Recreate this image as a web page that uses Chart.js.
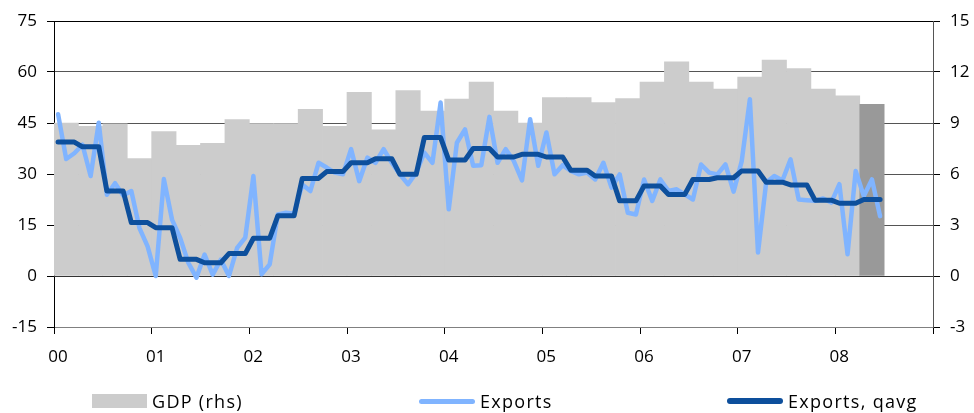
<!DOCTYPE html>
<html>
<head>
<meta charset="utf-8">
<script src="https://cdn.jsdelivr.net/npm/chart.js@4.4.1/dist/chart.umd.min.js"></script>
<style>
html,body{margin:0;padding:0;background:#fff;}
#wrap{position:relative;width:974px;height:413px;font-family:"Open Sans",sans-serif;}
#c{position:absolute;left:0;top:0;}
.lg{position:absolute;top:391px;height:20px;display:flex;align-items:center;font-size:18px;letter-spacing:1.3px;color:#000;white-space:nowrap;}
.sw{display:inline-block;margin-right:5px;}
</style>
</head>
<body>
<div id="wrap">
<canvas id="c" width="974" height="413"></canvas>
<div id="legend"></div>
</div>
<script>
// ---- data ----
const yearLabels = ['00','01','02','03','04','05','06','07','08'];
const seriesNames = ['GDP (rhs)','Exports','Exports, qavg'];
// quarterly GDP growth (rhs), Q1 2000 .. Q2 2008 (last quarter preliminary)
const gdpQuarterly = [
  9.0, 8.8, 8.95, 6.9,
  8.5, 7.68, 7.8, 9.2,
  8.97, 8.97, 9.8, 8.8,
  10.8, 8.6, 10.9, 9.7,
  10.4, 11.4, 9.7, 9.0,
  10.5, 10.5, 10.2, 10.44,
  11.4, 12.6, 11.4, 11.0,
  11.7, 12.7, 12.2, 11.0,
  10.6, 10.1
];
// monthly exports, Jan 2000 .. Jun 2008
const exportsMonthly = [
  47.6, 34.4, 36.1, 38.6, 29.4, 45.1, 23.9, 27.3, 23.7, 25.0, 14.1, 8.7,
  0.0, 28.5, 16.6, 11.2, 3.9, -0.5, 6.3, 0.4, 4.8, 0.0, 8.3, 11.3,
  29.4, 0.5, 3.4, 18.1, 18.6, 18.3, 26.9, 25.0, 33.3, 31.9, 30.4, 29.9,
  37.3, 27.9, 34.8, 33.3, 37.3, 33.3, 29.9, 27.0, 30.4, 36.3, 33.3, 51.0,
  19.6, 39.2, 43.1, 32.4, 32.6, 46.8, 33.3, 37.3, 33.8, 28.1, 46.1, 32.4,
  42.2, 29.9, 32.6, 30.9, 29.9, 30.4, 28.4, 33.3, 26.0, 29.9, 18.6, 18.1,
  28.4, 22.1, 28.4, 25.0, 25.5, 24.0, 22.5, 32.8, 30.4, 29.9, 32.8, 24.8,
  33.8, 52.0, 6.9, 27.5, 29.4, 28.1, 34.3, 22.5, 22.3, 22.1, 22.8, 21.6,
  27.0, 6.4, 30.9, 23.5, 28.4, 17.6
];
// quarterly average of exports, Q1 2000 .. Q2 2008
const exportsQavg = [
  39.4, 38.0, 25.0, 15.7,
  14.2, 4.9, 3.9, 6.6,
  11.1, 17.7, 28.7, 30.7,
  33.3, 34.5, 29.9, 40.7,
  34.1, 37.5, 35.0, 35.8,
  35.0, 31.1, 29.4, 22.1,
  26.5, 24.0, 28.4, 28.9,
  30.9, 27.6, 26.8, 22.3,
  21.4, 22.5
];
const leftAxis = {min: -15, max: 75, step: 15};
const rightAxis = {min: -3, max: 15, step: 3};

// ---- build ----
const MONTHS = yearLabels.length * 12;
const gdpPoints = gdpQuarterly.map((v, q) => ({x: q * 3 + 1.5, y: v}));
const expPoints = exportsMonthly.map((v, i) => ({x: i + 0.5, y: v}));
const qavgPoints = [];
exportsQavg.forEach((v, q) => { for (let m = 0; m < 3; m++) qavgPoints.push({x: q * 3 + m + 0.5, y: v}); });

const COL_GDP = '#cccccc', COL_GDP_PRE = '#999999', COL_EXP = '#80b4ff', COL_QAVG = '#0d4f9c';
const FONT = {family: '"Open Sans", sans-serif', size: 17};

const zeroLine = {
  id: 'zeroLine',
  afterDatasetDraw(chart, args) {
    if (args.index !== 0) return;
    const a = chart.chartArea, ctx = chart.ctx;
    const py = Math.round(chart.scales.y.getPixelForValue(0)) + 0.5;
    ctx.save();
    ctx.strokeStyle = '#333';
    ctx.lineWidth = 1;
    ctx.beginPath();
    ctx.moveTo(a.left, py);
    ctx.lineTo(a.right, py);
    ctx.stroke();
    ctx.restore();
  }
};

new Chart(document.getElementById('c'), {
  type: 'line',
  data: {
    datasets: [
      {type: 'bar', label: seriesNames[0], data: gdpPoints, yAxisID: 'y2', xAxisID: 'x',
       backgroundColor: ctx => ctx.dataIndex === gdpQuarterly.length - 1 ? COL_GDP_PRE : COL_GDP,
       borderWidth: 0, barPercentage: 1, categoryPercentage: 1, order: 3},
      {type: 'line', label: seriesNames[1], data: expPoints, yAxisID: 'y', xAxisID: 'x',
       borderColor: COL_EXP, borderWidth: 4.5, pointRadius: 0, tension: 0,
       borderJoinStyle: 'round', borderCapStyle: 'round', order: 2},
      {type: 'line', label: seriesNames[2], data: qavgPoints, yAxisID: 'y', xAxisID: 'x',
       borderColor: COL_QAVG, borderWidth: 5, pointRadius: 0, tension: 0,
       borderJoinStyle: 'round', borderCapStyle: 'round', order: 1}
    ]
  },
  options: {
    responsive: false,
    animation: false,
    layout: {padding: {left: 0, right: 0, top: 21, bottom: 50}},
    plugins: {legend: {display: false}, tooltip: {enabled: false}},
    scales: {
      x: {
        type: 'linear', position: 'bottom', min: 0, max: MONTHS, offset: false,
        afterBuildTicks: s => { const t = []; for (let v = 0; v <= MONTHS; v += 12) t.push({value: v}); s.ticks = t; },
        ticks: {callback: (v, i) => yearLabels[i] !== undefined ? yearLabels[i] : '',
                labelOffset: 4, padding: 13, color: '#000', font: FONT, maxRotation: 0, autoSkip: false},
        grid: {offset: false, drawOnChartArea: false, drawTicks: true, tickLength: 7, tickColor: '#000'},
        border: {color: '#808080', width: 1},
        afterFit: s => { s.height = 36; }
      },
      y: {
        position: 'left', min: leftAxis.min, max: leftAxis.max,
        ticks: {stepSize: leftAxis.step, color: '#000', font: FONT, padding: 10},
        grid: {color: c => c.tick.value === leftAxis.max ? '#000' : (c.tick.value === leftAxis.min ? '#808080' : '#555'),
               tickLength: 7, tickColor: '#000'},
        border: {color: '#000', width: 1},
        afterFit: s => { s.width = 54; }
      },
      y2: {
        position: 'right', min: rightAxis.min, max: rightAxis.max,
        ticks: {stepSize: rightAxis.step, color: '#000', font: FONT, padding: 10},
        grid: {drawOnChartArea: false, tickLength: 7, tickColor: '#000'},
        border: {color: '#555', width: 1},
        afterFit: s => { s.width = 41; }
      }
    }
  },
  plugins: [zeroLine]
});

// ---- HTML legend ----
const legendSpec = [
  {left: 92, sw: 'width:55px;height:14px;background:' + COL_GDP},
  {left: 419, sw: 'width:56px;height:5px;border-radius:3px;background:' + COL_EXP},
  {left: 727, sw: 'width:56px;height:6px;border-radius:3px;background:' + COL_QAVG}
];
const lg = document.getElementById('legend');
seriesNames.forEach((name, i) => {
  const d = document.createElement('div');
  d.className = 'lg';
  d.style.left = legendSpec[i].left + 'px';
  const s = document.createElement('span');
  s.className = 'sw';
  s.style.cssText = legendSpec[i].sw;
  d.appendChild(s);
  d.appendChild(document.createTextNode(name));
  lg.appendChild(d);
});
</script>
</body>
</html>
